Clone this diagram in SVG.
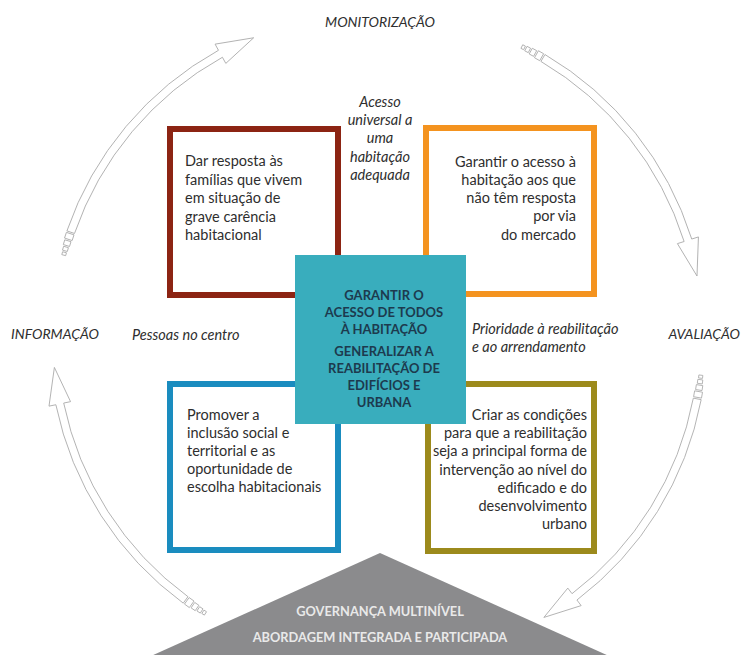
<svg xmlns="http://www.w3.org/2000/svg" xmlns:xlink="http://www.w3.org/1999/xlink" width="742" height="655" viewBox="0 0 742 655">
<style>
.box{fill:#fff;stroke-width:6}
.body{font-family:Lato,'Open Sans','Liberation Sans',sans-serif;font-size:14.5px;fill:#2e2e2e}
.it{font-family:Lato,'Open Sans','Liberation Sans',sans-serif;font-style:italic;font-size:14.5px;fill:#2e2e2e}
.cap{font-family:Lato,'Open Sans','Liberation Sans',sans-serif;font-style:italic;font-size:14px;fill:#2e2e2e}
.ctr{font-family:Lato,'Open Sans','Liberation Sans',sans-serif;font-weight:700;font-size:13px;fill:#1d3a4e;text-anchor:middle}
.gov{font-family:Lato,'Open Sans','Liberation Sans',sans-serif;font-weight:700;font-size:12.8px;fill:#e9e9e9;text-anchor:middle}
.arr{fill:#fff;stroke:#a8a8a8;stroke-width:0.8}
</style>
<defs>
<g id="ringArrow">
<path class="arr" d="M329,0 A329,329 0 0 1 244.5,220.1 L249.7,224.8 L215.3,243.4 L233.3,210.1 L238.5,214.8 A321,321 0 0 0 321,0 Z"/>
<rect class="arr" x="-4" y="-3" width="8" height="6" transform="rotate(-0.793) translate(325 0)"/>
<rect class="arr" x="-3.25" y="-2.5" width="6.5" height="5" transform="rotate(-2.027) translate(325 0)"/>
<rect class="arr" x="-2.5" y="-2" width="5" height="4" transform="rotate(-3.085) translate(325 0)"/>
<rect class="arr" x="-2" y="-1.5" width="4" height="3" transform="rotate(-3.967) translate(325 0)"/>
</g>
</defs>
<rect width="742" height="655" fill="#fff"/>

<g id="connectors">
<use xlink:href="#ringArrow" transform="translate(378 338) rotate(199)"/>
<use xlink:href="#ringArrow" transform="translate(378 338) rotate(300.5)"/>
<use xlink:href="#ringArrow" transform="translate(378 338) rotate(10.8)"/>
<use xlink:href="#ringArrow" transform="translate(378 338) rotate(126.3)"/>
</g>

<g id="node-red">
<rect class="box" x="170" y="129" width="168" height="166" stroke="#8c2413"/>
<text class="body"><tspan x="185" y="166">Dar resposta às</tspan><tspan x="185" y="184.5">famílias que vivem</tspan><tspan x="185" y="203">em situação de</tspan><tspan x="185" y="221.5">grave carência</tspan><tspan x="185" y="240">habitacional</tspan></text>
</g>

<g id="node-orange">
<rect class="box" x="426" y="128" width="168" height="166" stroke="#f4931f"/>
<text class="body" text-anchor="end"><tspan x="576" y="166.5">Garantir o acesso à</tspan><tspan x="576" y="184.8">habitação aos que</tspan><tspan x="576" y="203.1">não têm resposta</tspan><tspan x="576" y="221.4">por via</tspan><tspan x="576" y="239.7">do mercado</tspan></text>
</g>

<g id="node-blue">
<rect class="box" x="170" y="384" width="168" height="166" stroke="#1a8cbf"/>
<text class="body"><tspan x="187" y="420">Promover a</tspan><tspan x="187" y="438">inclusão social e</tspan><tspan x="187" y="456">territorial e as</tspan><tspan x="187" y="474">oportunidade de</tspan><tspan x="187" y="492">escolha habitacionais</tspan></text>
</g>

<g id="node-olive">
<rect class="box" x="428" y="384" width="166" height="167" stroke="#9c8a1c"/>
<text class="body" text-anchor="end"><tspan x="587" y="420">Criar as condições</tspan><tspan x="587" y="438.2">para que a reabilitação</tspan><tspan x="587" y="456.4">seja a principal forma de</tspan><tspan x="587" y="474.6">intervenção ao nível do</tspan><tspan x="587" y="492.8">edificado e do</tspan><tspan x="587" y="511">desenvolvimento</tspan><tspan x="587" y="529.2">urbano</tspan></text>
</g>

<g id="node-center">
<rect x="295" y="255" width="171" height="169" fill="#39adbd"/>
<text class="ctr"><tspan x="384" y="299.5">GARANTIR O</tspan><tspan x="384" y="316.5">ACESSO DE TODOS</tspan><tspan x="384" y="333.5">À HABITAÇÃO</tspan><tspan x="384" y="356">GENERALIZAR A</tspan><tspan x="384" y="373">REABILITAÇÃO DE</tspan><tspan x="384" y="390">EDIFÍCIOS E</tspan><tspan x="384" y="407">URBANA</tspan></text>
</g>

<g id="node-governance">
<polygon points="380,553 151,656 609,656" fill="#8b8b8d"/>
<text class="gov" x="380" y="616">GOVERNANÇA MULTINÍVEL</text>
<text class="gov" x="380" y="642">ABORDAGEM INTEGRADA E PARTICIPADA</text>
</g>

<g id="labels">
<text class="cap" x="380" y="27" text-anchor="middle">MONITORIZAÇÃO</text>
<text class="cap" x="11" y="339">INFORMAÇÃO</text>
<text class="cap" x="740" y="339" text-anchor="end">AVALIAÇÃO</text>
<text class="it" x="132" y="340">Pessoas no centro</text>
<text class="it"><tspan x="472" y="333.5">Prioridade à reabilitação</tspan><tspan x="472" y="352">e ao arrendamento</tspan></text>
<text class="it" text-anchor="middle"><tspan x="380" y="106.5">Acesso</tspan><tspan x="380" y="125">universal a</tspan><tspan x="380" y="143.3">uma</tspan><tspan x="380" y="161.7">habitação</tspan><tspan x="380" y="180">adequada</tspan></text>
</g>
</svg>
